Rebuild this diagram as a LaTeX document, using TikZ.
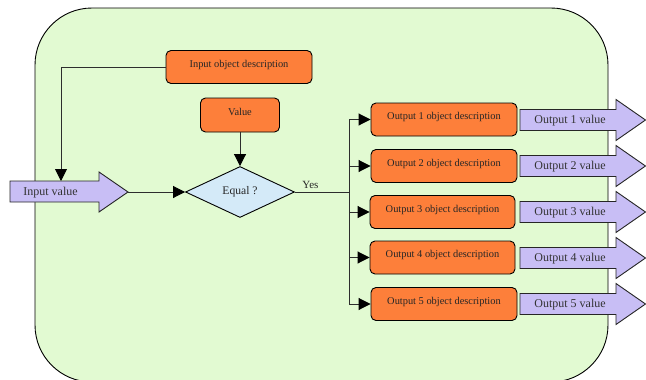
\documentclass[tikz,border=0pt]{standalone}
\usepackage{fontspec}
\setmainfont{Liberation Serif}
\usetikzlibrary{arrows.meta,shapes.geometric}
\definecolor{bggreen}{RGB}{226,250,210}
\definecolor{boxorange}{RGB}{253,127,58}
\definecolor{arrowpurple}{RGB}{200,190,245}
\definecolor{diamblue}{RGB}{212,234,248}
\definecolor{linegray}{RGB}{45,45,45}
\begin{document}
\begin{tikzpicture}[x=1pt,y=-1pt,
  conn/.style={draw=linegray, line width=0.9pt},
  arr/.style={conn, -{Triangle[length=12pt,width=12pt,color=black]}},
  descbox/.style={draw=black, line width=0.9pt, fill=boxorange, rounded corners=5pt,
    minimum height=33pt, inner sep=0pt, text height=7pt, text depth=7pt,
    font=\fontsize{10.4}{12}\selectfont, text=black!85},
  bigarrow/.style={draw=black!85, line width=0.9pt, fill=arrowpurple},
  arrowtext/.style={font=\fontsize{12}{14}\selectfont, text=black!80, inner sep=0pt,
    text height=8pt, text depth=3pt},
  decision/.style={diamond, draw=black, line width=0.9pt, fill=diamblue, inner sep=0pt,
    minimum width=109pt, minimum height=51pt, font=\fontsize{11.6}{14}\selectfont, text=black!85}
]
\useasboundingbox (0,0) rectangle (646,380);
% background panel
\draw[line width=0.9pt, fill=bggreen, rounded corners=57pt] (35,8) rectangle (608,382);

% input value arrow
\draw[bigarrow] (10,181) -- (99,181) -- (99,172) -- (128,192) -- (99,212) -- (99,202) -- (10,202) -- cycle;
\node[arrowtext] (inval) at (50.5,193) {Input value};
\coordinate (invtip) at (128,192);
\coordinate (invtop) at (61,181);

% top boxes
\node[descbox, minimum width=146pt] (iod) at (239,67) {Input object description};
\node[descbox, minimum width=79pt, minimum height=34pt] (val) at (240,115) {Value};

% decision
\node[decision] (eq) at (240,192) {Equal ?};
\node[font=\fontsize{11}{13}\selectfont, text=black!85, inner sep=0pt] (yes) at (310.5,185) {Yes};
\coordinate (split) at (349,192);

% output boxes and value arrows
\foreach \i/\bx/\by/\bw/\c in {1/444/119.5/146/120, 2/444/166/146/166, 3/442.5/212/145/212, 4/442.5/257.5/145/258, 5/444/304/146/304}{
  \node[descbox, minimum width=\bw pt] (o\i) at (\bx,\by) {Output \i\ object description};
  \draw[bigarrow] (520,\c-10.5) -- (616,\c-10.5) -- (616,\c-20.5) -- (645.5,\c) -- (616,\c+20.5) -- (616,\c+10.5) -- (520,\c+10.5) -- cycle;
  \node[arrowtext] (ov\i) at (570,\c+1) {Output \i\ value};
}

% connectors
\draw[arr] (iod.west) -| (invtop);
\draw[arr] (val.south) -- (eq.north);
\draw[arr] (invtip) -- (eq.west);
\draw[conn] (eq.east) -- (split);
\foreach \i in {1,...,5}{
  \draw[arr] (split) |- (o\i.west);
}
\end{tikzpicture}
\end{document}
